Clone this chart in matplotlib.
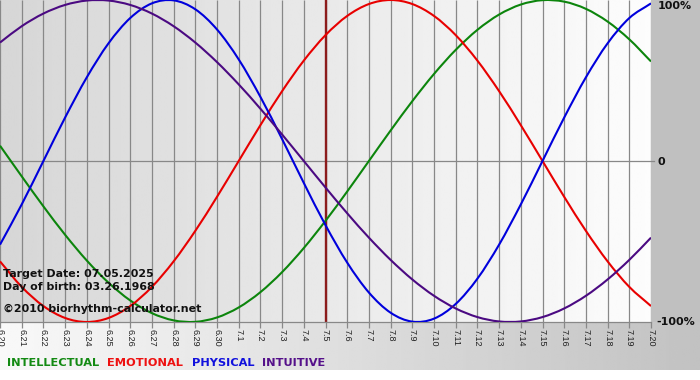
import numpy as np
import matplotlib
matplotlib.use('Agg')
import matplotlib.pyplot as plt
from matplotlib.patches import Rectangle, PathPatch
from matplotlib.path import Path

# ---- data ----
dates = ['6.20', '6.21', '6.22', '6.23', '6.24', '6.25', '6.26', '6.27', '6.28', '6.29', '6.30',
         '7.1', '7.2', '7.3', '7.4', '7.5', '7.6', '7.7', '7.8', '7.9', '7.10',
         '7.11', '7.12', '7.13', '7.14', '7.15', '7.16', '7.17', '7.18', '7.19', '7.20']

intellectual = [0.0951, -0.0951, -0.2817, -0.4582, -0.6182, -0.7557, -0.8660, -0.9450, -0.9898, -0.9989,
                -0.9718, -0.9096, -0.8146, -0.6901, -0.5406, -0.3717, -0.1893, 0.0, 0.1893, 0.3717,
                0.5406, 0.6901, 0.8146, 0.9096, 0.9718, 0.9989, 0.9898, 0.9450, 0.8660, 0.7557, 0.6182]
emotional = [-0.6235, -0.7818, -0.9010, -0.9749, -1.0, -0.9749, -0.9010, -0.7818, -0.6235, -0.4339,
             -0.2225, 0.0, 0.2225, 0.4339, 0.6235, 0.7818, 0.9010, 0.9749, 1.0, 0.9749,
             0.9010, 0.7818, 0.6235, 0.4339, 0.2225, 0.0, -0.2225, -0.4339, -0.6235, -0.7818, -0.9010]
physical = [-0.5196, -0.2698, 0.0, 0.2698, 0.5196, 0.7308, 0.8879, 0.9791, 0.9977, 0.9423,
            0.8170, 0.6311, 0.3984, 0.1362, -0.1362, -0.3984, -0.6311, -0.8170, -0.9423, -0.9977,
            -0.9791, -0.8879, -0.7308, -0.5196, -0.2698, 0.0, 0.2698, 0.5196, 0.7308, 0.8879, 0.9791]
intuitive = [0.7357, 0.8372, 0.9158, 0.9694, 0.9966, 0.9966, 0.9694, 0.9158, 0.8372, 0.7357,
             0.6142, 0.4760, 0.3247, 0.1646, 0.0, -0.1646, -0.3247, -0.4760, -0.6142, -0.7357,
             -0.8372, -0.9158, -0.9694, -0.9966, -0.9966, -0.9694, -0.9158, -0.8372, -0.7357, -0.6142, -0.4760]

series_names = ['INTELLECTUAL', 'EMOTIONAL', 'PHYSICAL', 'INTUITIVE']
target_date = '7.5'
info_lines = ['Target Date: 07.05.2025', 'Day of birth: 03.26.1968', '\u00a92010 biorhythm-calculator.net']
y_labels = ['100%', '0', '-100%']

# ---- style ----
colors = {'INTELLECTUAL': '#0c850c', 'EMOTIONAL': '#e80000', 'PHYSICAL': '#0000dc', 'INTUITIVE': '#4b0a82'}
label_colors = {'INTELLECTUAL': '#138a13', 'EMOTIONAL': '#ee1111', 'PHYSICAL': '#1111dd', 'INTUITIVE': '#55118a'}


def smooth_path(xs, ys):
    """Catmull-Rom style smooth line through the data points (drawn as cubic Bezier)."""
    p = np.column_stack([xs, ys]).astype(float)
    ext = np.vstack([2 * p[0] - p[1], p, 2 * p[-1] - p[-2]])
    verts = [p[0]]
    codes = [Path.MOVETO]
    for i in range(len(p) - 1):
        p0, p1, p2, p3 = ext[i], ext[i + 1], ext[i + 2], ext[i + 3]
        c1 = p1 + (p2 - p0) / 6.0
        c2 = p2 - (p3 - p1) / 6.0
        verts += [c1, c2, p2]
        codes += [Path.CURVE4] * 3
    return Path(verts, codes)


W, H = 700, 380
fig = plt.figure(figsize=(W / 100, H / 100), dpi=100)
fig.patch.set_facecolor('white')

# background
bg = fig.add_axes([0, 0, 1, 1], zorder=-10)
bg.set_xlim(0, W)
bg.set_ylim(H, 0)
bg.axis('off')
grad = np.linspace(0.975, 0.76, 256)[None, :]
bg.imshow(grad, cmap='gray', vmin=0, vmax=1, extent=(0, W, 370, 322), aspect='auto', interpolation='bilinear')
bg.add_patch(Rectangle((651, 0), W - 651, 322, facecolor='#c0c0c0', edgecolor='none'))

# main plot area
ax = fig.add_axes([0, 58 / H, 651 / W, 322 / H])
x = np.arange(len(dates))
ax.set_xlim(0, len(dates) - 1)
ax.set_ylim(-1, 1)
pgrad = np.linspace(0.84, 0.99, 256)[None, :]
ax.imshow(pgrad, cmap='gray', vmin=0, vmax=1, extent=(0, len(dates) - 1, -1, 1), aspect='auto',
          interpolation='bilinear', zorder=0)

ax.vlines(x, -1, 1, color='#888888', lw=0.9, zorder=1)
ax.axhline(0, color='#888888', lw=0.9, zorder=1)
ax.plot([len(dates) - 1, len(dates) - 1 + 0.12], [0, 0], color='#888888', lw=0.9, clip_on=False)

ti = dates.index(target_date)
ax.axvline(x[ti], color='#8c1c1c', lw=1.7, zorder=2)

for name, vals in zip(series_names, [intellectual, emotional, physical, intuitive]):
    patch = PathPatch(smooth_path(x, vals), facecolor='none', edgecolor=colors[name], lw=1.5,
                      zorder=3, joinstyle='round', capstyle='butt')
    ax.add_patch(patch)

for s in ['top', 'left', 'right']:
    ax.spines[s].set_visible(False)
ax.spines['bottom'].set_color('#888888')
ax.spines['bottom'].set_linewidth(0.9)
ax.set_xticks(x)
ax.set_xticklabels(dates, rotation=270, fontsize=6.5, family='Liberation Sans', color='#222222')
ax.tick_params(axis='x', direction='out', length=4, color='#888888', width=0.9, pad=1)
ax.set_yticks([])

# right labels
fig.text(658 / W, 1 - 6 / H, y_labels[0], fontsize=8, fontweight='bold', va='center', ha='left', color='#111111')
fig.text(658 / W, 1 - 162 / H, y_labels[1], fontsize=8, fontweight='bold', va='center', ha='left', color='#111111')
fig.text(656 / W, 1 - 322 / H, y_labels[2], fontsize=8, fontweight='bold', va='center', ha='left', color='#111111')

# info text
for txt, base in zip(info_lines, [277, 290, 312]):
    fig.text(3 / W, 1 - base / H, txt, fontsize=7.9, fontweight='bold', va='baseline', ha='left',
             color='#111111', zorder=10)

# legend words
for name, xp in zip(series_names, [7, 107, 192, 262]):
    fig.text(xp / W, 1 - 366 / H, name, fontsize=8.2, fontweight='bold', va='baseline', ha='left',
             color=label_colors[name])

fig.savefig('out.png', dpi=100)
